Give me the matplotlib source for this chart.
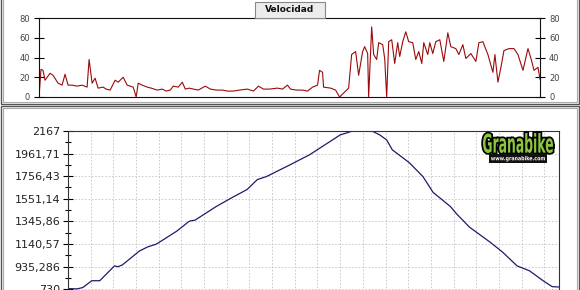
import matplotlib
matplotlib.use("Agg")
import matplotlib.pyplot as plt
from matplotlib.ticker import FixedLocator, MultipleLocator
from matplotlib.textpath import TextPath
from matplotlib.font_manager import FontProperties
from matplotlib.patches import PathPatch, Rectangle
from matplotlib.transforms import Affine2D
import matplotlib.patheffects as pe

# velocidad (tiempo en unidades relativas 0-100, km/h)
vel_t = [0.0, 0.4, 0.8, 1.2, 2.2, 2.8, 3.8, 4.6, 5.2, 5.8, 6.6, 7.6, 8.6, 9.6, 10.0, 10.6, 11.2, 11.8,
         12.8, 13.4, 14.2, 15.2, 15.8, 16.8, 17.6, 18.8, 19.4, 19.8, 20.6, 21.6, 22.4, 23.6, 24.6,
         25.4, 26.2, 26.8, 27.8, 28.6, 29.2, 30.0, 30.8, 31.8, 33.2, 34.2, 35.4, 36.6, 37.6, 38.8,
         40.0, 41.6, 42.8, 43.8, 44.8, 46.0, 47.6, 48.6, 49.6, 50.2, 51.4, 52.6, 53.6, 54.6,
         55.6, 56.0, 56.6, 56.8, 58.2, 59.2, 60.0, 60.8, 61.8, 62.4, 63.2, 63.8, 64.6, 65.0,
         65.6, 65.8, 66.4, 66.8, 67.4, 67.8, 68.6, 69.0, 69.4, 69.8, 70.4, 71.0, 71.6, 72.0,
         72.6, 73.2, 73.8, 74.6, 75.2, 75.8, 76.4, 76.8, 77.6, 78.0, 78.6, 79.2, 80.0, 80.8,
         81.6, 82.2, 83.2, 83.8, 84.6, 85.2, 86.2, 87.2, 87.8, 88.6, 89.6, 90.6, 91.0, 91.6,
         92.2, 92.8, 93.8, 94.8, 95.6, 96.6, 97.6, 98.2, 98.8, 99.6, 100.0]
vel_v = [0, 28, 27, 17, 24, 22, 14, 12, 23, 12, 12, 11, 12, 10, 38, 14, 19, 9,
         10, 8, 7, 17, 15, 20, 12, 10, 0, 14, 12, 10, 9, 7, 8,
         6, 7, 11, 10, 15, 8, 9, 8, 7, 11, 8, 7, 7, 6, 6,
         7, 8, 6, 11, 8, 8, 9, 8, 12, 8, 7, 7, 6, 10,
         12, 27, 25, 10, 9, 7, 0, 4, 9, 43, 46, 22, 46, 51,
         44, 0, 71, 43, 38, 55, 53, 39, 0, 56, 58, 34, 55, 41,
         56, 66, 56, 55, 38, 46, 34, 55, 43, 55, 44, 56, 58, 36,
         65, 51, 49, 43, 53, 39, 44, 36, 55, 56, 43, 25, 43, 15,
         30, 47, 49, 49, 43, 27, 49, 39, 27, 30, 18]
vel_ticks = [0, 20, 40, 60, 80]

# perfil (km, m)
dist_km = [0.0, 0.8, 1.3, 2.1, 2.8, 4.1, 4.4, 4.8, 6.3, 7.0, 7.8, 9.6, 10.7, 11.2,
           13.1, 14.5, 15.8, 16.7, 17.5, 19.6, 21.3, 24.0, 25.1, 26.8, 27.5, 28.1, 28.6,
           30.1, 31.3, 32.2, 33.7, 34.3, 35.4, 37.2, 38.3, 39.6, 40.7, 41.9, 42.7, 43.3]
alt_m = [735, 733, 745, 807, 807, 942, 934, 951, 1077, 1113, 1140, 1258, 1348, 1357,
         1483, 1564, 1636, 1726, 1753, 1861, 1951, 2131, 2167, 2167, 2131, 2086, 1996,
         1879, 1753, 1609, 1483, 1411, 1294, 1159, 1069, 942, 897, 807, 753, 750]
alt_ticks = [2167, 1961.71, 1756.43, 1551.14, 1345.86, 1140.57, 935.286, 730]
alt_labels = ["2167", "1961,71", "1756,43", "1551,14", "1345,86", "1140,57", "935,286", "730"]

W, H = 580, 290
fig = plt.figure(figsize=(5.8, 2.9), dpi=100)

def fx(px):
    return px / W

def fy(py):
    return 1 - py / H

# marcos de los paneles
for x0, x1, y0, y1 in [(1, 578.5, -5, 103.5), (1, 578.5, 106, 300)]:
    fig.add_artist(Rectangle((fx(x0), fy(y1)), fx(x1) - fx(x0), fy(y0) - fy(y1),
                             transform=fig.transFigure, fill=False, ec="#555555", lw=1.0))
    fig.add_artist(Rectangle((fx(x0 + 2), fy(y1 - 2)), fx(x1 - 2) - fx(x0 + 2), fy(y0 + 2) - fy(y1 - 2),
                             transform=fig.transFigure, fill=False, ec="#aaaaaa", lw=0.8))

# ---- velocidad ----
ax1 = fig.add_axes([fx(39), fy(97), fx(540) - fx(39), fy(18) - fy(97)])
ax1.plot(vel_t, vel_v, color="#9b0a0a", lw=0.8)
ax1.set_xlim(0, 100)
ax1.set_ylim(0, 80)
ax1.set_yticks(vel_ticks)
ax1.set_xticks([])
ax1.tick_params(axis="y", direction="inout", length=7, width=0.8, labelsize=6,
                labelcolor="#444444", right=True, labelright=True, pad=3)
for s in ax1.spines.values():
    s.set_linewidth(0.8)
    s.set_color("#111111")

fig.add_artist(Rectangle((fx(255), fy(18)), fx(325) - fx(255), fy(2) - fy(18),
                         transform=fig.transFigure, fc="#ececec", ec="#888888", lw=0.8))
fig.text(fx(290), fy(10), "Velocidad", ha="center", va="center", fontsize=6.5,
         fontweight="bold", color="#111111")

# ---- altitud ----
step = alt_ticks[0] - alt_ticks[1]
ax2 = fig.add_axes([fx(68), fy(131 + 8 * 22.6), fx(559) - fx(68), 8 * 22.6 / H])
ax2.plot(dist_km, alt_m, color="#1c1c6b", lw=0.9)
ax2.set_xlim(0, 43.3)
ax2.set_ylim(alt_ticks[-1] - step, alt_ticks[0])
ax2.yaxis.set_major_locator(FixedLocator(alt_ticks))
ax2.set_yticklabels(alt_labels)
ax2.yaxis.set_minor_locator(FixedLocator([v - step / 2 for v in alt_ticks]))
ax2.xaxis.set_major_locator(MultipleLocator(2))
ax2.tick_params(axis="x", length=0, labelbottom=False)
ax2.tick_params(axis="y", which="major", direction="inout", length=7, width=0.8,
                labelsize=8, labelcolor="#222222", pad=2)
ax2.tick_params(axis="y", which="minor", direction="inout", length=5, width=0.8)
ax2.grid(True, color="#c4c4c4", lw=0.6, ls=(0, (2, 2)))
for s in ax2.spines.values():
    s.set_linewidth(0.8)
    s.set_color("#333333")

# logo
fp = FontProperties(family="DejaVu Sans", weight="bold")

def place_text(txt, x0, y0, x1, y1, fc, stroke):
    tp = TextPath((0, 0), txt, size=1, prop=fp)
    e = tp.get_extents()
    tr = (Affine2D().translate(-e.x0, -e.y0)
          .scale((fx(x1) - fx(x0)) / e.width, (fy(y0) - fy(y1)) / e.height)
          .translate(fx(x0), fy(y1)) + fig.transFigure)
    p = PathPatch(tp, transform=tr, fc=fc, ec="none")
    if stroke:
        p.set_path_effects([pe.Stroke(linewidth=stroke, foreground="black"), pe.Normal()])
    fig.add_artist(p)

place_text("Granabike", 483, 133, 553, 153, "#8cc63e", 2.5)
fig.add_artist(Rectangle((fx(489), fy(163)), fx(547) - fx(489), fy(154) - fy(163),
                         transform=fig.transFigure, fc="#111111", ec="none"))
place_text("www.granabike.com", 491, 156, 545, 161.5, "#ffffff", 0)

fig.savefig("out.png", dpi=100)
